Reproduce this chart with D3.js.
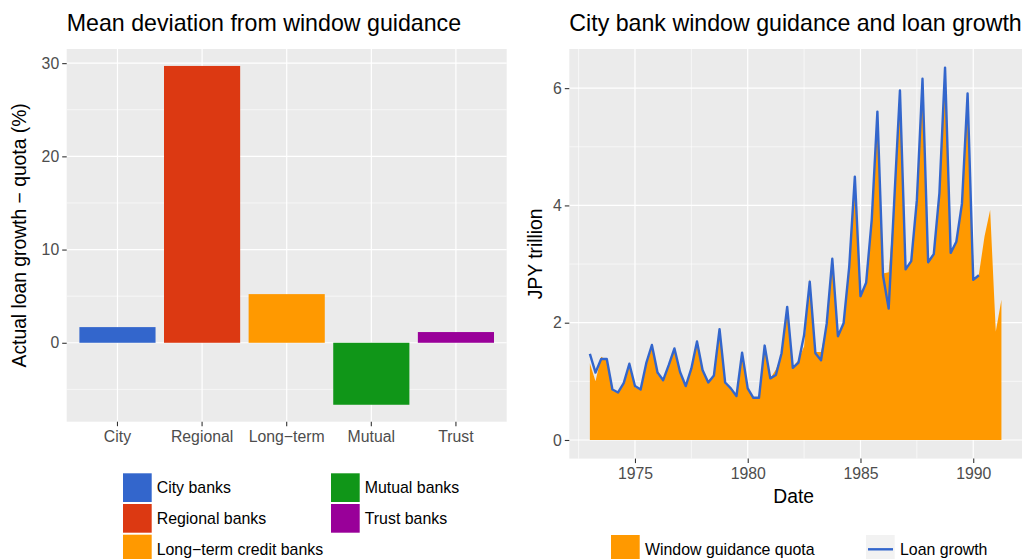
<!DOCTYPE html>
<html>
<head>
<meta charset="utf-8">
<script src="https://cdn.jsdelivr.net/npm/d3@7"></script>
<style>
  html, body { margin: 0; padding: 0; background: #fff; }
  svg { display: block; font-family: "Liberation Sans", Arial, sans-serif; }
</style>
</head>
<body>
<svg id="chart" width="1022" height="559"></svg>
<script>
// ---------------- DATA ----------------
const bankCategories = ["City", "Regional", "Long\u2212term", "Mutual", "Trust"];
const bankLegendLabels = ["City banks", "Regional banks", "Long\u2212term credit banks", "Mutual banks", "Trust banks"];
const bankDeviation = [1.68, 29.7, 5.22, -6.65, 1.15];
const bankColors = ["#3366CC", "#DC3912", "#FF9900", "#109618", "#990099"];
const devTicks = [0, 10, 20, 30];

const startYear = 1973; // first quarter 1973Q1, quarterly observations
const quotaValues = [1.31, 1.00, 1.42, 1.36, 0.84, 0.80, 0.95, 1.27, 0.90, 0.85,
  1.28, 1.58, 1.12, 1.00, 1.25, 1.53, 1.13, 0.90, 1.20, 1.64,
  1.16, 1.02, 1.08, 1.85, 0.96, 0.86, 0.74, 1.45, 0.86, 0.71,
  0.71, 1.57, 1.05, 1.20, 1.44, 2.22, 1.25, 1.36, 1.60, 2.75,
  1.50, 1.50, 1.95, 3.05, 1.80, 1.98, 2.92, 4.40, 2.47, 2.66,
  3.72, 5.50, 2.84, 2.86, 4.00, 5.85, 2.93, 3.05, 4.05, 6.05,
  3.04, 3.17, 4.18, 6.25, 3.21, 3.37, 4.00, 5.85, 2.75, 2.82,
  3.47, 3.92, 1.85, 2.39];
const loanValues = [1.47, 1.15, 1.38, 1.38, 0.86, 0.81, 0.97, 1.30, 0.92, 0.86,
  1.31, 1.62, 1.15, 1.02, 1.28, 1.56, 1.16, 0.92, 1.22, 1.68,
  1.19, 0.98, 1.10, 1.89, 0.98, 0.88, 0.75, 1.49, 0.88, 0.72,
  0.72, 1.61, 1.05, 1.11, 1.48, 2.27, 1.23, 1.32, 1.79, 2.70,
  1.48, 1.36, 1.98, 3.09, 1.77, 1.99, 2.95, 4.49, 2.45, 2.68,
  3.76, 5.60, 2.80, 2.24, 4.10, 5.96, 2.91, 3.05, 4.09, 6.16,
  3.03, 3.17, 4.21, 6.35, 3.19, 3.38, 4.03, 5.91, 2.73, 2.81];
const yearTicks = [1975, 1980, 1985, 1990];
const jpyTicks = [0, 2, 4, 6];

// ---------------- STYLE ----------------
const PANEL = "#EBEBEB", GRID = "#FFFFFF", TICKTXT = "#4D4D4D", TICK = "#333333";
const FS_TICK = 15.8, FS_LEG = 15.9;
const svg = d3.select("#chart");

function title(x, y, txt) {
  svg.append("text").attr("x", x).attr("y", y).attr("font-size", 23.2)
    .attr("fill", "#000").text(txt);
}

// ================= LEFT: bar chart =================
{
  const L = 66.7, R = 506.7, T = 49, B = 421.7;
  const minV = d3.min(bankDeviation), maxV = d3.max(bankDeviation);
  const pad = (maxV - minV) * 0.05;
  const y = d3.scaleLinear().domain([minV - pad, maxV + pad]).range([B, T]);
  const x = d3.scaleBand().domain(bankCategories).range([L, R])
    .paddingInner(0.1).paddingOuter(0.15);

  svg.append("rect").attr("x", L).attr("y", T).attr("width", R - L).attr("height", B - T).attr("fill", PANEL);
  const g = svg.append("g");
  const minorY = [-5, 5, 15, 25];
  g.selectAll(".mny").data(minorY).join("line")
    .attr("x1", L).attr("x2", R).attr("y1", d => y(d)).attr("y2", d => y(d))
    .attr("stroke", GRID).attr("stroke-width", 0.6);
  g.selectAll(".mjy").data(devTicks).join("line")
    .attr("x1", L).attr("x2", R).attr("y1", d => y(d)).attr("y2", d => y(d))
    .attr("stroke", GRID).attr("stroke-width", 1.2);
  g.selectAll(".mjx").data(bankCategories).join("line")
    .attr("y1", T).attr("y2", B)
    .attr("x1", d => x(d) + x.bandwidth() / 2).attr("x2", d => x(d) + x.bandwidth() / 2)
    .attr("stroke", GRID).attr("stroke-width", 1.2);

  svg.append("g").selectAll("rect").data(bankDeviation).join("rect")
    .attr("x", (d, i) => x(bankCategories[i]))
    .attr("width", x.bandwidth())
    .attr("y", d => y(Math.max(0, d)))
    .attr("height", d => Math.abs(y(d) - y(0)))
    .attr("fill", (d, i) => bankColors[i]);

  const ya = svg.append("g").attr("transform", `translate(${L},0)`)
    .call(d3.axisLeft(y).tickValues(devTicks).tickFormat(d3.format("d")).tickSize(4.5).tickPadding(3));
  const xa = svg.append("g").attr("transform", `translate(0,${B})`)
    .call(d3.axisBottom(x).tickSize(4.5).tickPadding(4.5));
  [ya, xa].forEach(a => {
    a.select(".domain").remove();
    a.selectAll("line").attr("stroke", TICK).attr("stroke-width", 1.1);
    a.selectAll("text").attr("fill", TICKTXT).attr("font-size", FS_TICK)
      .attr("font-family", "Liberation Sans, Arial, sans-serif");
  });

  title(L, 31, "Mean deviation from window guidance");
  svg.append("text").attr("transform", `translate(26,${(T + B) / 2}) rotate(-90)`)
    .attr("text-anchor", "middle").attr("font-size", 19.3).attr("fill", "#000")
    .text("Actual loan growth \u2212 quota (%)");

  const leg = svg.append("g");
  const colX = [123, 331], rowY0 = 473.3, rowStep = 30.7, key = 28.7;
  bankLegendLabels.forEach((lab, i) => {
    const c = i < 3 ? 0 : 1, r = i < 3 ? i : i - 3;
    leg.append("rect").attr("x", colX[c]).attr("y", rowY0 + r * rowStep)
      .attr("width", key).attr("height", key).attr("fill", bankColors[i]);
    leg.append("text").attr("x", colX[c] + key + 5).attr("y", rowY0 + r * rowStep + key / 2 + 5.7)
      .attr("font-size", FS_LEG).attr("fill", "#000").text(lab);
  });
}

// ================= RIGHT: area + line =================
{
  const L = 569.3, R = 1022.0, T = 49, B = 458.6;
  const quota = quotaValues.map((v, i) => ({ t: startYear + i * 0.25, v }));
  const loan = loanValues.map((v, i) => ({ t: startYear + i * 0.25, v }));
  const tMin = startYear, tMax = quota[quota.length - 1].t;
  const tPad = (tMax - tMin) * 0.05;
  const x = d3.scaleLinear().domain([tMin - tPad, tMax + tPad]).range([L, R]);
  const vMax = Math.max(d3.max(quotaValues), d3.max(loanValues));
  const y = d3.scaleLinear().domain([-vMax * 0.05, vMax * 1.05]).range([B, T]);

  svg.append("rect").attr("x", L).attr("y", T).attr("width", R - L).attr("height", B - T).attr("fill", PANEL);
  const g = svg.append("g");
  const minorY = [1, 3, 5], minorX = [1972.5, 1977.5, 1982.5, 1987.5];
  g.selectAll(".a").data(minorY).join("line")
    .attr("x1", L).attr("x2", R).attr("y1", d => y(d)).attr("y2", d => y(d))
    .attr("stroke", GRID).attr("stroke-width", 0.6);
  g.selectAll(".b").data(minorX).join("line")
    .attr("y1", T).attr("y2", B).attr("x1", d => x(d)).attr("x2", d => x(d))
    .attr("stroke", GRID).attr("stroke-width", 0.6);
  g.selectAll(".c").data(jpyTicks).join("line")
    .attr("x1", L).attr("x2", R).attr("y1", d => y(d)).attr("y2", d => y(d))
    .attr("stroke", GRID).attr("stroke-width", 1.2);
  g.selectAll(".d").data(yearTicks).join("line")
    .attr("y1", T).attr("y2", B).attr("x1", d => x(d)).attr("x2", d => x(d))
    .attr("stroke", GRID).attr("stroke-width", 1.2);

  svg.append("path").datum(quota)
    .attr("d", d3.area().x(d => x(d.t)).y0(y(0)).y1(d => y(d.v)))
    .attr("fill", "#FF9900");
  svg.append("path").datum(loan)
    .attr("d", d3.line().x(d => x(d.t)).y(d => y(d.v)))
    .attr("fill", "none").attr("stroke", "#3366CC").attr("stroke-width", 2.4)
    .attr("stroke-linejoin", "round");

  const ya = svg.append("g").attr("transform", `translate(${L},0)`)
    .call(d3.axisLeft(y).tickValues(jpyTicks).tickFormat(d3.format("d")).tickSize(4.5).tickPadding(3));
  const xa = svg.append("g").attr("transform", `translate(0,${B})`)
    .call(d3.axisBottom(x).tickValues(yearTicks).tickFormat(d3.format("d")).tickSize(4.5).tickPadding(4.5));
  [ya, xa].forEach(a => {
    a.select(".domain").remove();
    a.selectAll("line").attr("stroke", TICK).attr("stroke-width", 1.1);
    a.selectAll("text").attr("fill", TICKTXT).attr("font-size", FS_TICK)
      .attr("font-family", "Liberation Sans, Arial, sans-serif");
  });

  title(L, 31, "City bank window guidance and loan growth");
  svg.append("text").attr("x", (L + R) / 2 - 2).attr("y", 503).attr("text-anchor", "middle")
    .attr("font-size", 19.3).attr("fill", "#000").text("Date");
  svg.append("text").attr("transform", `translate(542,${(T + B) / 2}) rotate(-90)`)
    .attr("text-anchor", "middle").attr("font-size", 19.3).attr("fill", "#000")
    .text("JPY trillion");

  const key = 28.7, ky = 535;
  svg.append("rect").attr("x", 611).attr("y", ky).attr("width", key).attr("height", key).attr("fill", "#FF9900");
  svg.append("text").attr("x", 645).attr("y", ky + key / 2 + 5.7).attr("font-size", FS_LEG).text("Window guidance quota");
  svg.append("rect").attr("x", 866).attr("y", ky).attr("width", key).attr("height", key).attr("fill", "#F2F2F2");
  svg.append("line").attr("x1", 868).attr("x2", 893).attr("y1", ky + 14.3).attr("y2", ky + 14.3)
    .attr("stroke", "#3366CC").attr("stroke-width", 2.4);
  svg.append("text").attr("x", 900).attr("y", ky + key / 2 + 5.7).attr("font-size", FS_LEG).text("Loan growth");
}
</script>
</body>
</html>
